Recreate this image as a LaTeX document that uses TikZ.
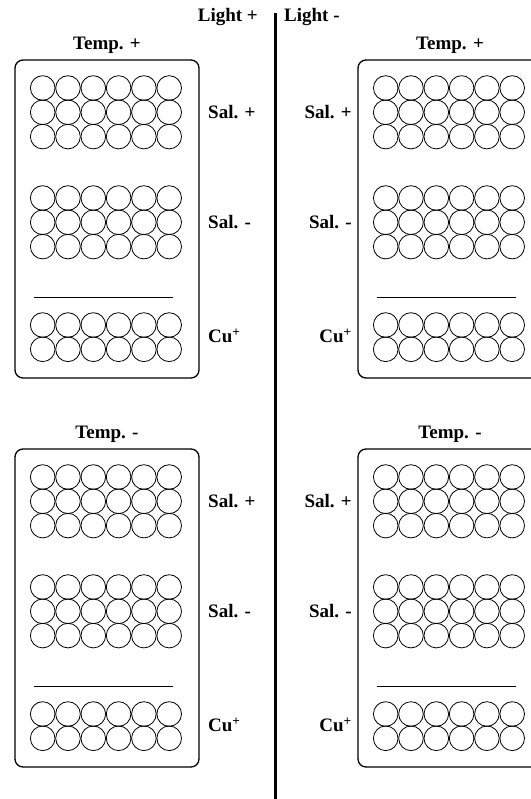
\documentclass[tikz,border=0pt]{standalone}
\usepackage{fontspec}
\setmainfont{Liberation Serif}
\usetikzlibrary{positioning}

\begin{document}
\begin{tikzpicture}[x=1pt, y=-1pt,
    lbl/.style={font=\fontsize{19}{22}\selectfont\bfseries, inner sep=0pt},
    tray/.style={draw, line width=1.3pt, rounded corners=8pt,
                 minimum width=184pt, minimum height=318pt},
    well/.style={draw, line width=0.8pt},
    divider/.style={line width=3pt}
  ]
  \useasboundingbox (0,0) rectangle (530,799);
  % light / dark split
  \node[lbl, anchor=east] (lightp) at (258,17) {Light +};
  \node[lbl, anchor=west] (lightm) at (284,17) {Light -};
  \coordinate (splittop) at (275,13);
  \coordinate (splitbot) at (275,799);
  \draw[divider] (splittop) -- (splitbot);

  % four trays: shift x / shift y / temp / name / label x / label anchor
  \foreach \dx/\dy/\tmp/\nm/\lx/\la in
      {0/0/+/a/208/west, 343/0/+/b/9/east,
       0/389/-/c/208/west, 343/389/-/d/9/east} {
    \begin{scope}[shift={(\dx,\dy)}]
      \node[tray] (box\nm) at (107,219) {};
      \node[lbl, above=6pt of box\nm] (temp\nm) {Temp. \tmp};
      % wells
      \foreach \i in {0,...,5} {
        \foreach \j in {0,1,2} {
          \draw[well] (42.7+25.3*\i, 88+24.3*\j) circle [radius=12.3pt];
          \draw[well] (42.7+25.3*\i, 198+24.3*\j) circle [radius=12.3pt];
        }
        \foreach \j in {0,1} {
          \draw[well] (42.7+25.3*\i, 325+24.3*\j) circle [radius=12.3pt];
        }
      }
      \coordinate (barl\nm) at (34,297);
      \coordinate (barr\nm) at (173,297);
      \draw[well] (barl\nm) -- (barr\nm);
      \node[lbl, anchor=\la] (salp\nm) at (\lx,112) {Sal. +};
      \node[lbl, anchor=\la] (salm\nm) at (\lx,222) {Sal. -};
      \node[lbl, anchor=\la] (cu\nm) at (\lx,336) {Cu\textsuperscript{+}};
    \end{scope}
  }
\end{tikzpicture}
\end{document}
